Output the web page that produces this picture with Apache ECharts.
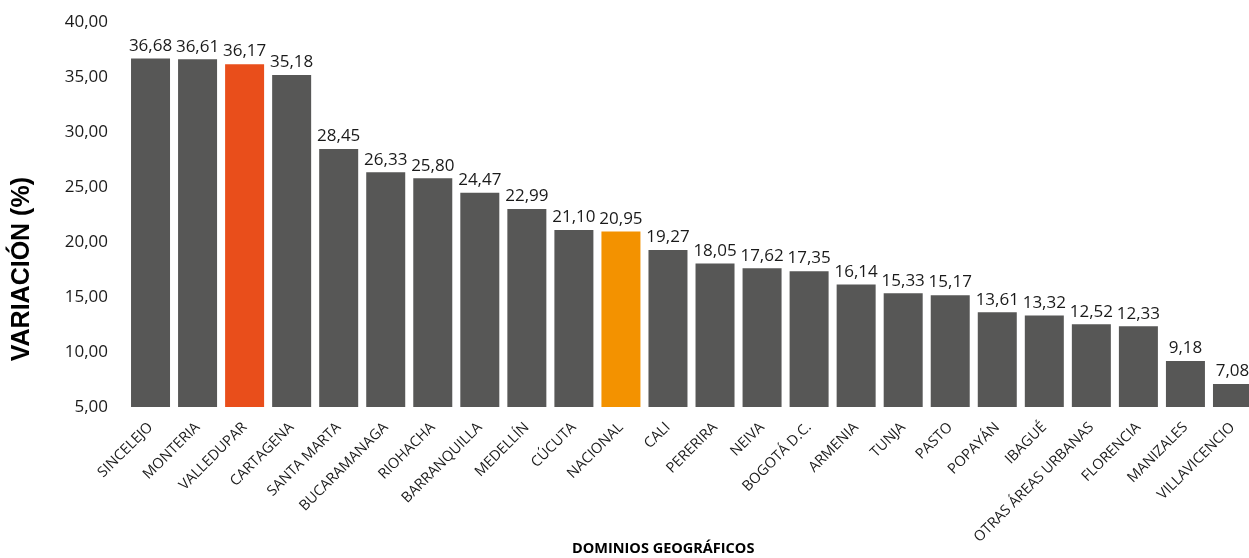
<!DOCTYPE html>
<html>
<head>
<meta charset="utf-8">
<script src="https://cdn.jsdelivr.net/npm/echarts@6/dist/echarts.min.js"></script>
<style>html,body{margin:0;padding:0;background:#fff;overflow:hidden;}#c{width:1256px;height:558px;}</style>
</head>
<body>
<div id="c"></div>
<script>
const categories = ["SINCELEJO","MONTERIA","VALLEDUPAR","CARTAGENA","SANTA MARTA","BUCARAMANAGA","RIOHACHA","BARRANQUILLA","MEDELLÍN","CÚCUTA","NACIONAL","CALI","PERERIRA","NEIVA","BOGOTÁ D.C.","ARMENIA","TUNJA","PASTO","POPAYÁN","IBAGUÉ","OTRAS ÁREAS URBANAS","FLORENCIA","MANIZALES","VILLAVICENCIO"];
const values = [36.68,36.61,36.17,35.18,28.45,26.33,25.80,24.47,22.99,21.10,20.95,19.27,18.05,17.62,17.35,16.14,15.33,15.17,13.61,13.32,12.52,12.33,9.18,7.08];
const highlight = {"VALLEDUPAR": "#E94E1B", "NACIONAL": "#F39200"};
const baseColor = "#575756";
const yTitle = "VARIACIÓN (%)";
const xTitle = "DOMINIOS GEOGRÁFICOS";

const fmt = v => v.toFixed(2).replace('.', ',');
const chart = echarts.init(document.getElementById('c'), null, {renderer: 'canvas'});
chart.setOption({
  animation: false,
  textStyle: {fontFamily: "Open Sans"},
  grid: {left: 127, top: 22, right: 0, height: 385, containLabel: false},
  xAxis: {
    type: 'category', data: categories,
    axisLine: {show: false}, axisTick: {show: false},
    axisLabel: {rotate: 45, fontSize: 14.5, color: '#1a1a1a', margin: 18, interval: 0, fontFamily: "Open Sans"}
  },
  yAxis: {
    type: 'value', min: 5, max: 40, interval: 5,
    splitLine: {show: false}, axisLine: {show: false}, axisTick: {show: false},
    axisLabel: {fontSize: 17, color: '#1a1a1a', margin: 19, formatter: v => fmt(v), fontFamily: "Open Sans"}
  },
  series: [{
    type: 'bar', barWidth: 39,
    data: categories.map((c, i) => ({value: values[i], itemStyle: {color: highlight[c] || baseColor}})),
    label: {show: true, position: 'top', distance: 4, fontSize: 17, color: '#1a1a1a', formatter: p => fmt(p.value), fontFamily: "Open Sans"}
  }],
  graphic: [
    {type: 'text', left: 10, top: 177, rotation: Math.PI/2, style: {text: yTitle, font: 'bold 25px Arial, "Liberation Sans"', fill: '#000'}},
    {type: 'text', left: 572, top: 541, style: {text: xTitle, font: 'bold 14.5px "Open Sans"', fill: '#000'}}
  ]
});
</script>
</body>
</html>
